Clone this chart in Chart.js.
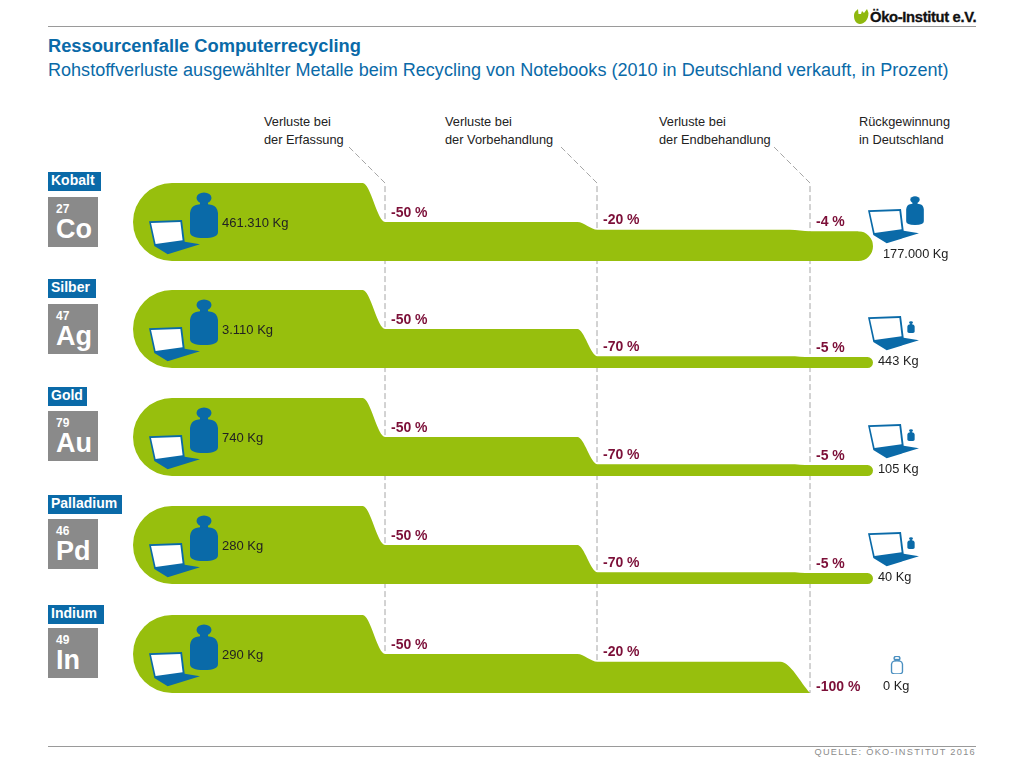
<!DOCTYPE html>
<html lang="de">
<head>
<meta charset="utf-8">
<title>Ressourcenfalle Computerrecycling</title>
<script src="https://cdn.jsdelivr.net/npm/chart.js@4"></script>
<style>
  html, body { margin: 0; padding: 0; background: #fff; }
  body { position: relative; width: 1024px; height: 766px; overflow: hidden;
         font-family: "Liberation Sans", Arial, sans-serif; color: #222; }
  .t { position: absolute; white-space: nowrap; line-height: 1; }
  .rule { position: absolute; left: 48px; width: 928px; height: 1px; background: #9a9a9a; }
  .title { left: 48px; top: 37px; font-size: 18.3px; font-weight: bold; color: #0a6aa8; }
  .sub { left: 48px; top: 61px; font-size: 18.06px; color: #0a6aa8; }
  .head { font-size: 12.8px; line-height: 17.5px; white-space: pre; }
  .name { left: 48px; height: 19px; line-height: 17px; padding: 0 0 0 3px; box-sizing: border-box;
          background: #0a6aa8; color: #fff; font-size: 14px; font-weight: bold; }
  .tile { position: absolute; left: 48px; width: 50px; height: 50px; background: #8a8a8a; color: #fff; font-weight: bold; }
  .tile b { position: absolute; left: 8px; top: 6px; font-size: 12px; line-height: 1; }
  .tile i { position: absolute; left: 8px; top: 19px; font-size: 27px; line-height: 1; font-style: normal; }
  .kg { font-size: 13px; transform: translateY(-50%); }
  .kg.end { font-size: 12.8px; }
  .loss { font-size: 14px; font-weight: bold; color: #7c0f38; transform: translateY(-50%); }
  .flow { position: absolute; left: 133px; }
  svg.layer { position: absolute; left: 0; top: 0; }
  svg.icon { position: absolute; overflow: visible; }
  .source { right: 48px; top: 748px; font-size: 9.2px; letter-spacing: 1.3px; color: #8c8c8c; }
  .logo { left: 870px; top: 10px; font-size: 14.8px; font-weight: bold; color: #111; letter-spacing: -0.35px; -webkit-text-stroke: 0.3px #111; }
</style>
</head>
<body>
<svg width="0" height="0" style="position:absolute">
  <symbol id="weight" viewBox="0 0 28 46">
    <ellipse cx="14" cy="6" rx="7.5" ry="5.5"/>
    <rect x="10" y="9" width="8" height="6"/>
    <path d="M6 13Q14 11 22 13Q27 14 28 21L28 40Q28 46 14 46Q0 46 0 40L0 21Q1 14 6 13Z"/>
  </symbol>
  <symbol id="laptop" viewBox="0 0 52 35">
    <path fill="#0a6aa8" d="M0 1.3L33 0L35.7 21.7L51 24.3L18.7 34.3L5.3 26Z"/>
    <path fill="#fff" d="M2 3L31.4 1.900L33.600 20.300L6.600 24Z"/>
  </symbol>
</svg>

<svg class="layer" width="1024" height="766" id="gates"></svg>

<div class="rule" style="top:26px"></div>
<div class="rule" style="top:746px"></div>
<svg class="icon" style="left:853px;top:8px" width="17" height="17" viewBox="0 0 17 17">
  <path fill="#8fb80f" d="M1 8C1 4 3 3 5 1L5.500 6L8 6L9 3L11 5L14 1L15.500 5C15.500 12 11 16 7 16C3 16 1 12 1 8Z"/>
</svg>
<div class="t logo">Öko-Institut e.V.</div>

<div class="t title">Ressourcenfalle Computerrecycling</div>
<div class="t sub">Rohstoffverluste ausgewählter Metalle beim Recycling von Notebooks (2010 in Deutschland verkauft, in Prozent)</div>
<div class="t source">QUELLE: ÖKO-INSTITUT 2016</div>

<script>
// Data
const metals = ["Kobalt", "Silber", "Gold", "Palladium", "Indium"];
const symbols = ["Co", "Ag", "Au", "Pd", "In"];
const atomicNumbers = [27, 47, 79, 46, 49];
const inputKg = ["461.310 Kg", "3.110 Kg", "740 Kg", "280 Kg", "290 Kg"];
const recoveredKg = ["177.000 Kg", "443 Kg", "105 Kg", "40 Kg", "0 Kg"];
const stages = ["Verluste bei\nder Erfassung", "Verluste bei\nder Vorbehandlung", "Verluste bei\nder Endbehandlung", "Rückgewinnung\nin Deutschland"];

// Share of the metal still in the stream before the first gate and after each gate
const remainingCo = [100, 50, 40, 38];
const remainingAg = [100, 50, 15, 14];
const remainingAu = [100, 50, 15, 14];
const remainingPd = [100, 50, 15, 14];
const remainingIn = [100, 50, 40, 0];
const remaining = [remainingCo, remainingAg, remainingAu, remainingPd, remainingIn];

const lossCo = ["-50 %", "-20 %", "-4 %"];
const lossAg = ["-50 %", "-70 %", "-5 %"];
const lossAu = ["-50 %", "-70 %", "-5 %"];
const lossPd = ["-50 %", "-70 %", "-5 %"];
const lossIn = ["-50 %", "-20 %", "-100 %"];
const losses = [lossCo, lossAg, lossAu, lossPd, lossIn];

// Layout
const GREEN = "#97bf0d";
const BLUE = "#0a6aa8";
const rowTop = [183, 290, 398, 506, 615];
const nameTop = [172, 279, 387, 495, 605];
const tileTop = [197, 304, 411, 519, 628];
const nameWidth = [53, 48, 39, 74, 56];
const gateX = [385, 597, 810];
const headX = [264, 445, 659, 859];
const xMin = -0.186, xMax = 3.296;   // gates sit at x = 1, 2, 3
const FLOW_W = 740, FLOW_H = 78;

function add(cls, text, style) {
  const d = document.createElement("div");
  d.className = cls;
  if (text != null) d.textContent = text;
  Object.assign(d.style, style);
  document.body.appendChild(d);
  return d;
}

function useIcon(id, x, y, w, h, style) {
  const s = document.createElementNS("http://www.w3.org/2000/svg", "svg");
  s.setAttribute("class", "icon");
  s.setAttribute("width", w);
  s.setAttribute("height", h);
  s.setAttribute("style", `left:${x}px;top:${y}px;` + (style || `fill:${BLUE}`));
  const u = document.createElementNS("http://www.w3.org/2000/svg", "use");
  u.setAttribute("href", "#" + id);
  s.appendChild(u);
  document.body.appendChild(s);
}

// ─── Gate lines behind the streams ────────────────────────────
const gates = document.getElementById("gates");
gateX.forEach((x) => {
  const p = document.createElementNS("http://www.w3.org/2000/svg", "path");
  p.setAttribute("d", `M${x - 36} 147L${x} 183L${x} 693`);
  p.setAttribute("fill", "none");
  p.setAttribute("stroke", "#a6a6a6");
  p.setAttribute("stroke-dasharray", "6 3");
  gates.appendChild(p);
});

stages.forEach((s, i) => add("t head", s, { left: headX[i] + "px", top: "113px" }));

// Round the stream's ends: full height at the left, end thickness at the right.
const roundEnds = {
  id: "roundEnds",
  beforeDatasetsDraw(chart) {
    const { ctx, chartArea: a, scales: { y } } = chart;
    const vals = chart.data.datasets[0].data;
    const last = vals[vals.length - 1].y;
    const endTop = y.getPixelForValue(last);
    const r = (a.bottom - endTop) / 2;
    const R = (a.bottom - a.top) / 2;
    ctx.save();
    ctx.beginPath();
    ctx.arc(a.left + R, a.top + R, R, Math.PI / 2, Math.PI * 1.5);
    ctx.lineTo(a.right - r, a.top);
    ctx.lineTo(a.right - r, endTop);
    if (r > 0) ctx.arc(a.right - r, endTop + r, r, -Math.PI / 2, Math.PI / 2);
    ctx.lineTo(a.right - r, a.bottom);
    ctx.closePath();
    ctx.clip();
  },
  afterDatasetsDraw(chart) {
    chart.ctx.restore();
  },
};

function flowPoints(vals) {
  const drop = [0.105, 0.095, vals[3] === 0 ? 0.14 : 0.095];
  const pts = [{ x: xMin, y: vals[0] }];
  for (let g = 1; g <= 3; g++) {
    pts.push({ x: g - drop[g - 1], y: vals[g - 1] });
    pts.push({ x: g, y: vals[g] });
  }
  if (vals[3] > 0) pts.push({ x: xMax, y: vals[3] });
  return pts;
}

// ─── One row per metal ────────────────────────────────────────
metals.forEach((name, i) => {
  const top = rowTop[i];
  add("t name", name, { top: nameTop[i] + "px", width: nameWidth[i] + "px" });
  const tile = add("tile", null, { top: tileTop[i] + "px" });
  tile.innerHTML = `<b>${atomicNumbers[i]}</b><i>${symbols[i]}</i>`;

  const wrap = add("flow", null, { top: top + "px", width: FLOW_W + "px", height: FLOW_H + "px" });
  const cv = document.createElement("canvas");
  cv.width = FLOW_W;
  cv.height = FLOW_H;
  cv.style.display = "block";
  wrap.appendChild(cv);

  const chart = new Chart(cv, {
    type: "line",
    data: {
      datasets: [{
        label: name,
        data: flowPoints(remaining[i]),
        parsing: false,
        borderWidth: 0,
        pointRadius: 0,
        cubicInterpolationMode: "monotone",
        backgroundColor: GREEN,
        fill: "origin",
      }],
    },
    options: {
      responsive: false,
      animation: false,
      layout: { padding: 0 },
      plugins: { legend: { display: false }, tooltip: { enabled: false } },
      scales: {
        x: { type: "linear", min: xMin, max: xMax, display: false },
        y: { min: 0, max: 100, display: false },
      },
    },
    plugins: [roundEnds],
  });

  // Loss labels hang off the stream's top edge at each gate
  losses[i].forEach((txt, g) => {
    const left = remaining[i][g + 1];
    const edge = chart.scales.y.getPixelForValue(left);
    const y = left === 0 ? edge - 7 : edge - 10.5;
    add("t loss", txt, { left: gateX[g] + 6 + "px", top: top + y + "px" });
  });

  // Input side
  useIcon("weight", 190, top + 9, 28, 46);
  useIcon("laptop", 149, top + 37, 52, 35);
  add("t kg", inputKg[i], { left: "222px", top: top + 39 + "px" });
});

// ─── Recovery side ────────────────────────────────────────────
useIcon("laptop", 868, 209, 52, 35);
useIcon("weight", 906, 196, 18, 29);
add("t kg end", recoveredKg[0], { left: "883px", top: "254px" });
[1, 2, 3].forEach((i) => {
  useIcon("laptop", 868, rowTop[i] + 26, 52, 35);
  useIcon("weight", 906, rowTop[i] + 31, 10, 12);
  add("t kg end", recoveredKg[i], { left: "878px", top: rowTop[i] + 71 + "px" });
});
useIcon("weight", 890, 656, 14, 18, "fill:#fff;stroke:#4a8fc0;stroke-width:3.500px");
add("t kg end", recoveredKg[4], { left: "883px", top: "686px" });
</script>
</body>
</html>
